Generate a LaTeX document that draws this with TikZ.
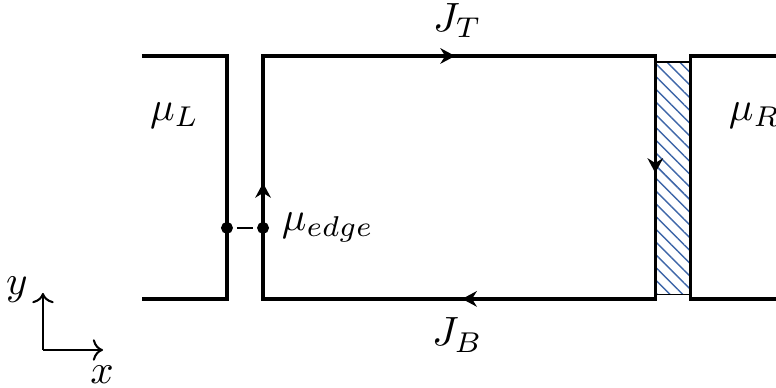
\documentclass[tikz,border=0pt]{standalone}
\usepackage{amsmath,amssymb}
\usetikzlibrary{arrows.meta,decorations.markings,patterns.meta}
\definecolor{hatchblue}{RGB}{62,102,168}
\tikzset{
  wire/.style    = {line width=0.8pt},
  twire/.style   = {line width=0.5pt},
  bdot/.style    = {circle, draw, fill=black, inner sep=0pt, minimum size=2.5pt},
  lbl/.style     = {inner sep=1pt},
  hatch/.style   = {pattern={Lines[angle=-45,distance=2.2pt,line width=0.35pt]},
                    pattern color=hatchblue},
  flow/.style    = {postaction={decorate}, decoration={markings,
                    mark=at position 0.996cm with {\arrow{Stealth[length=3.6pt,width=3.8pt]}},
                    mark=at position 3.737cm with {\arrow{Stealth[length=3.6pt,width=3.8pt]}},
                    mark=at position 6.462cm with {\arrow{Stealth[length=3.6pt,width=3.8pt]}},
                    mark=at position 9.204cm with {\arrow{Stealth[length=3.6pt,width=3.8pt]}}}},
}

\begin{document}
\begin{tikzpicture}
  \useasboundingbox (0,0) rectangle (6.667,3.333);
  % contact region
  \fill[hatch] (5.63,0.80) rectangle (5.93,2.80);
  \draw[line width=0.3pt] (5.63,0.80) rectangle (5.93,2.80);
  % reservoirs
  \draw[wire] (1.22,2.852) -- (1.95,2.852) -- (1.95,0.765) -- (1.22,0.765);
  \draw[wire] (6.70,2.852) -- (5.93,2.852) -- (5.93,0.765) -- (6.70,0.765);
  % sample edge
  \coordinate (bl) at (2.26,0.765);
  \coordinate (tl) at (2.26,2.852);
  \coordinate (tr) at (5.63,2.852);
  \coordinate (br) at (5.63,0.765);
  \draw[wire,flow] (bl) -- (tl) -- (tr) -- (br) -- cycle;
  \node[bdot] (pl) at (1.95,1.375) {};
  \node[bdot] (pr) at (2.26,1.375) {};
  \draw[line width=0.6pt,shorten <=1pt,shorten >=1pt] (pl) -- (pr);
  \node[lbl,anchor=west] (mue) at (2.38,1.375) {$\mu_{edge}$};
  \node[lbl] (muL) at (1.50,2.34) {$\mu_L$};
  \node[lbl,anchor=west] (muR) at (6.22,2.34) {$\mu_R$};
  \node[lbl] (jt) at (3.93,3.16) {$J_T$};
  \node[lbl] (jb) at (3.93,0.455) {$J_B$};
  % axes
  \coordinate (o) at (0.369,0.326);
  \coordinate (ytip) at (0.369,0.816);
  \coordinate (xtip) at (0.885,0.326);
  \draw[twire,-{To[length=2.5pt]}] (o) -- (ytip);
  \draw[twire,-{To[length=2.5pt]}] (o) -- (xtip);
  \node[lbl] (ylab) at (0.146,0.84) {$y$};
  \node[lbl] (xlab) at (0.876,0.11) {$x$};
\end{tikzpicture}
\end{document}
